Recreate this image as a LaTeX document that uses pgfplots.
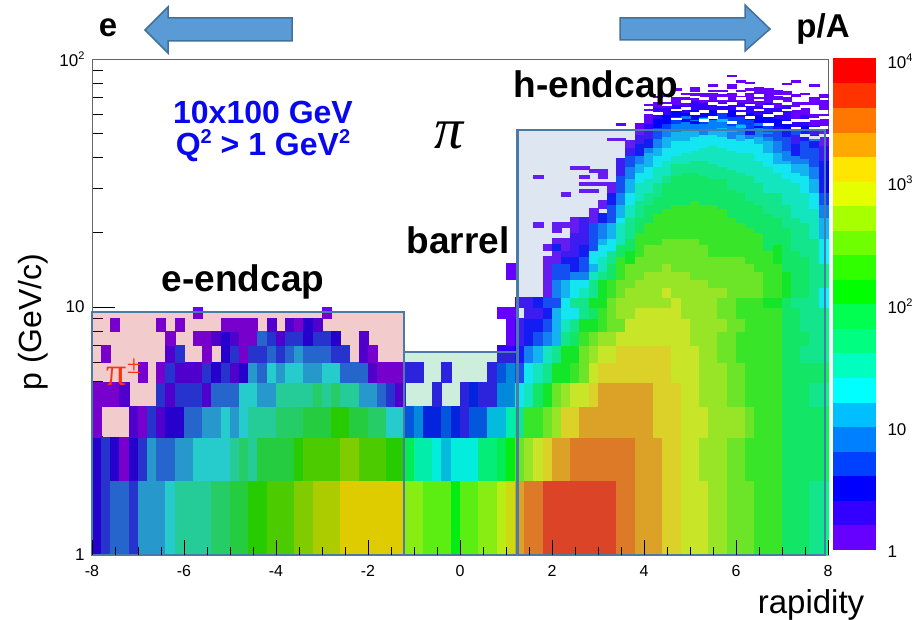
\documentclass[border=0pt]{standalone}
\usepackage{pgfplots}
\usepackage{fontspec}
\pgfplotsset{compat=1.18}
\setmainfont{Liberation Sans}
\newfontfamily\serifpi{Liberation Serif}
\definecolor{lev0}{HTML}{FFFFFF}
\definecolor{lev1}{HTML}{6600FF}
\definecolor{lev2}{HTML}{3300FF}
\definecolor{lev3}{HTML}{0000FF}
\definecolor{lev4}{HTML}{0040FF}
\definecolor{lev5}{HTML}{0080FF}
\definecolor{lev6}{HTML}{00BFFF}
\definecolor{lev7}{HTML}{00FFFF}
\definecolor{lev8}{HTML}{00FFBF}
\definecolor{lev9}{HTML}{00FF80}
\definecolor{lev10}{HTML}{00FF50}
\definecolor{lev11}{HTML}{00FF00}
\definecolor{lev12}{HTML}{30FF00}
\definecolor{lev13}{HTML}{70FF00}
\definecolor{lev14}{HTML}{A8FF00}
\definecolor{lev15}{HTML}{E6FF00}
\definecolor{lev16}{HTML}{FFE600}
\definecolor{lev17}{HTML}{FFAA00}
\definecolor{lev18}{HTML}{FF7700}
\definecolor{lev19}{HTML}{FF3300}
\definecolor{lev20}{HTML}{FF0000}
\definecolor{boxline}{HTML}{4A7BA6}
\definecolor{ovpink}{RGB}{191,0,0}
\definecolor{ovgreen}{RGB}{18,173,94}
\definecolor{ovblue}{RGB}{94,135,191}
\definecolor{noteblue}{RGB}{8,8,240}
\pgfdeclareplotmark{cell}{\pgfpathrectangle{\pgfpointorigin}{\pgfpoint{\rw pt}{\rh pt}}\pgfusepathqfillstroke}
\newcommand{\fs}[1]{\fontsize{#1}{#1}\selectfont}
\newcommand{\up}[3]{\raisebox{#1pt}{\fs{#2}#3}}
\pgfplotsset{cellstyle/.style={only marks, scatter, mark=cell, point meta=\thisrow{c},
  visualization depends on={value \thisrow{c} \as \lev},
  scatter/@pre marker code/.code={\scope[fill=lev\lev, draw=lev\lev, line width=0.25pt]},
  scatter/@post marker code/.code={\endscope}}}
\begin{document}
\begin{tikzpicture}[x=1pt,y=1pt]
\path[use as bounding box] (0,0) rectangle (916,620);
\begin{axis}[at={(92pt,65pt)}, anchor=south west, scale only axis, width=736pt, height=496pt,
  xmin=-8, xmax=8, ymode=log, ymin=1, ymax=100, clip=false, axis on top,
  xtick=\empty, ytick={1,10,100}, yticklabels={1,10,{10\up{7}{11}{2}}},
  minor ytick={2,3,4,5,6,7,8,9,20,30,40,50,60,70,80,90},
  major tick length=23pt, minor tick length=11pt, tick align=inside, ytick pos=left,
  tick style={black, line width=0.6pt}, axis line style={draw=gray!80!black, line width=0.8pt},
  yticklabel style={font=\fs{17}, xshift=-4pt}]
\addplot[cellstyle, visualization depends on={9.2*\thisrow{n} \as \rw},
  visualization depends on={248*log10(\thisrow{q}/\thisrow{p}) \as \rh}]
 table[row sep=\\, x expr={-8+0.2*\thisrow{k}}, y=p] {
k n p q c\\
0 1 1 2 3\\ 1 1 1 2 4\\ 2 2 1 2 5\\ 4 1 1 2 4\\ 5 3 1 2 6\\ 8 1 1 2 7\\ 9 4 1 2 8\\ 13 2 1 2 9\\ 15 2 1 2 10\\ 17 2 1 2 11\\ 19 3 1 2 12\\ 22 2 1 2 13\\ 24 3 1 2 14\\ 27 7 1 2 15\\
34 2 1 2 14\\ 36 3 1 2 13\\ 39 1 1 2 11\\ 40 2 1 2 13\\ 42 2 1 2 14\\ 44 1 1 2 15\\ 45 1 1 2 16\\ 46 1 1 2 17\\ 47 2 1 2 18\\ 49 8 1 2 19\\ 57 2 1 2 18\\ 59 3 1 2 17\\ 62 2 1 2 16\\ 64 3 1 2 15\\ 67 2 1 2 14\\ 69 3 1 2 13\\ 72 3 1 2 12\\ 75 3 1 2 10\\ 78 2 1 2 9\\
0 1 2 3 3\\ 1 1 2 3 4\\ 2 1 2 3 3\\ 3 1 2 3 1\\ 4 1 2 3 3\\ 5 1 2 3 4\\ 6 1 2 3 6\\ 7 2 2 3 5\\ 9 2 2 3 6\\ 11 4 2 3 7\\ 15 1 2 3 8\\ 16 1 2 3 9\\ 17 1 2 3 8\\ 18 4 2 3 10\\ 22 1 2 3 11\\ 23 4 2 3 12\\ 27 2 2 3 13\\ 29 3 2 3 12\\ 32 2 2 3 11\\
34 1 2 3 10\\ 35 2 2 3 8\\ 37 1 2 3 7\\ 38 1 2 3 6\\ 39 3 2 3 7\\ 42 2 2 3 9\\ 44 1 2 3 10\\ 45 1 2 3 11\\ 46 1 2 3 13\\ 47 1 2 3 14\\ 48 1 2 3 15\\ 49 1 2 3 16\\ 50 2 2 3 17\\ 52 7 2 3 18\\ 59 3 2 3 17\\ 62 2 2 3 16\\ 64 2 2 3 15\\ 66 3 2 3 14\\ 69 2 2 3 13\\ 71 4 2 3 12\\ 75 5 2 3 10\\
0 1 3 4 1\\ 4 1 3 4 2\\ 5 1 3 4 1\\ 6 1 3 4 4\\ 7 1 3 4 2\\ 8 2 3 4 3\\ 10 2 3 4 5\\ 12 2 3 4 6\\ 14 1 3 4 7\\ 15 1 3 4 6\\ 16 1 3 4 7\\ 17 3 3 4 8\\ 20 3 3 4 9\\ 23 3 3 4 10\\ 26 2 3 4 11\\ 28 2 3 4 10\\ 30 2 3 4 9\\ 32 2 3 4 7\\
34 1 3 4 4\\ 35 1 3 4 5\\ 36 2 3 4 3\\ 38 1 3 4 4\\ 39 1 3 4 3\\ 40 1 3 4 2\\ 41 2 3 4 4\\ 43 2 3 4 6\\ 45 1 3 4 8\\ 46 1 3 4 9\\ 47 2 3 4 12\\ 49 1 3 4 13\\ 50 1 3 4 14\\ 51 2 3 4 16\\ 53 8 3 4 17\\ 61 3 3 4 16\\ 64 3 3 4 15\\ 67 4 3 4 14\\ 71 1 3 4 13\\ 72 3 3 4 12\\ 75 5 3 4 10\\
0 3 4 5 1\\ 3 1 4 5 2\\ 7 1 4 5 4\\ 8 1 4 5 2\\ 9 3 4 5 4\\ 12 1 4 5 2\\ 13 3 4 5 5\\ 16 2 4 5 7\\ 18 2 4 5 6\\ 20 4 4 5 8\\ 24 1 4 5 9\\ 25 1 4 5 8\\ 26 1 4 5 9\\ 27 2 4 5 8\\ 29 2 4 5 6\\ 31 1 4 5 5\\ 32 1 4 5 4\\ 33 1 4 5 2\\
37 1 4 5 2\\ 40 1 4 5 2\\ 41 1 4 5 3\\ 42 2 4 5 2\\ 44 2 4 5 5\\ 46 1 4 5 7\\ 47 1 4 5 8\\ 48 1 4 5 10\\ 49 1 4 5 11\\ 50 1 4 5 13\\ 51 1 4 5 14\\ 52 2 4 5 15\\ 54 1 4 5 16\\ 55 6 4 5 17\\ 61 3 4 5 16\\ 64 2 4 5 15\\ 66 3 4 5 14\\ 69 2 4 5 13\\ 71 4 4 5 12\\ 75 3 4 5 10\\ 78 2 4 5 9\\
5 1 5 6 1\\ 7 1 5 6 1\\ 8 1 5 6 4\\ 9 3 5 6 2\\ 12 1 5 6 4\\ 13 1 5 6 3\\ 14 1 5 6 4\\ 15 1 5 6 2\\ 16 1 5 6 3\\ 17 1 5 6 6\\ 18 1 5 6 5\\ 19 1 5 6 7\\ 20 1 5 6 6\\ 21 2 5 6 7\\ 23 2 5 6 6\\ 25 2 5 6 7\\ 27 3 5 6 5\\ 30 1 5 6 2\\ 31 3 5 6 1\\
34 2 5 6 2\\ 38 1 5 6 2\\ 43 1 5 6 2\\ 44 1 5 6 4\\ 45 1 5 6 5\\ 46 1 5 6 4\\ 47 1 5 6 7\\ 48 1 5 6 8\\ 49 1 5 6 9\\ 50 2 5 6 11\\ 52 1 5 6 12\\ 53 1 5 6 13\\ 54 1 5 6 15\\ 55 8 5 6 16\\ 63 3 5 6 15\\ 66 3 5 6 14\\ 69 2 5 6 13\\ 71 4 5 6 12\\ 75 5 5 6 10\\
1 1 6 7 1\\ 8 1 6 7 2\\ 9 1 6 7 4\\ 12 1 6 7 1\\ 14 1 6 7 3\\ 15 1 6 7 4\\ 16 1 6 7 1\\ 17 2 6 7 4\\ 19 1 6 7 5\\ 20 1 6 7 4\\ 21 1 6 7 5\\ 22 1 6 7 6\\ 23 3 6 7 5\\ 26 2 6 7 4\\ 29 1 6 7 2\\ 30 1 6 7 1\\
44 2 6 7 2\\ 46 1 6 7 3\\ 47 1 6 7 5\\ 48 1 6 7 6\\ 49 1 6 7 8\\ 50 1 6 7 9\\ 51 2 6 7 11\\ 53 1 6 7 13\\ 54 1 6 7 14\\ 55 2 6 7 15\\ 57 6 6 7 16\\ 63 3 6 7 15\\ 66 2 6 7 14\\ 68 2 6 7 13\\ 70 5 6 7 12\\ 75 2 6 7 10\\ 77 3 6 7 9\\
8 1 7 8 1\\ 11 2 7 8 1\\ 13 1 7 8 2\\ 14 1 7 8 3\\ 15 1 7 8 2\\ 16 2 7 8 1\\ 18 1 7 8 5\\ 19 1 7 8 4\\ 20 1 7 8 2\\ 21 2 7 8 4\\ 23 1 7 8 3\\ 24 2 7 8 4\\ 26 1 7 8 3\\ 29 1 7 8 2\\
45 1 7 8 1\\ 46 1 7 8 2\\ 47 1 7 8 3\\ 48 1 7 8 4\\ 49 1 7 8 5\\ 50 1 7 8 6\\ 51 1 7 8 9\\ 52 1 7 8 10\\ 53 1 7 8 12\\ 54 1 7 8 13\\ 55 2 7 8 14\\ 57 8 7 8 15\\ 65 3 7 8 14\\ 68 2 7 8 13\\ 70 5 7 8 12\\ 75 3 7 8 10\\ 78 2 7 8 9\\
2 1 8 9 1\\ 7 1 8 9 1\\ 9 1 8 9 1\\ 14 4 8 9 1\\ 19 1 8 9 2\\ 21 1 8 9 2\\ 22 1 8 9 1\\ 23 1 8 9 3\\ 24 1 8 9 2\\
45 1 8 9 1\\ 46 1 8 9 2\\ 47 2 8 9 3\\ 49 1 8 9 4\\ 50 1 8 9 6\\ 51 1 8 9 8\\ 52 1 8 9 9\\ 53 2 8 9 11\\ 55 1 8 9 12\\ 56 2 8 9 13\\ 58 7 8 9 15\\ 65 4 8 9 14\\ 69 2 8 9 13\\ 71 4 8 9 12\\ 75 2 8 9 10\\ 77 3 8 9 9\\
11 1 9 10 1\\ 25 1 9 10 1\\ 44 2 9 10 1\\ 47 2 9 10 2\\ 49 1 9 10 3\\ 50 1 9 10 6\\ 51 2 9 10 7\\ 53 1 9 10 9\\ 54 1 9 10 10\\ 55 1 9 10 12\\ 56 1 9 10 13\\ 57 2 9 10 14\\ 59 5 9 10 15\\ 64 4 9 10 14\\ 68 2 9 10 13\\ 70 5 9 10 12\\ 75 2 9 10 10\\ 77 3 9 10 9\\
46 1 10 11 2\\ 47 1 10 11 2\\ 48 1 10 11 3\\ 49 2 10 11 4\\ 51 1 10 11 7\\ 52 2 10 11 9\\ 54 2 10 11 11\\ 56 1 10 11 13\\ 57 6 10 11 14\\ 63 1 10 11 15\\ 64 4 10 11 14\\ 68 2 10 11 13\\ 70 3 10 11 12\\ 73 2 10 11 11\\ 75 1 10 11 10\\ 76 3 10 11 9\\ 79 1 10 11 7\\
45 1 13 15 1\\
49 1 11 16 1\\ 49 1 17 18 1\\ 48 1 21 22 1\\ 48 1 33 34 1\\
50 1 11 13 5\\ 50 1 13 15 4\\ 50 1 15 19 1\\ 50 1 17 18 3\\ 50 1 20 22 1\\
51 1 11 13 6\\ 51 1 13 15 4\\ 51 1 15 16 3\\ 51 1 16 17 2\\ 51 1 17 19 1\\ 51 1 21 22 1\\ 51 1 28 29 1\\
52 1 11 13 7\\ 52 1 13 14 5\\ 52 1 14 16 3\\ 52 1 16 20 2\\ 52 1 20 23 1\\ 52 1 36 37 1\\
53 1 11 12 8\\ 53 1 12 13 7\\ 53 1 13 14 5\\ 53 1 14 16 4\\ 53 1 16 18 3\\ 53 1 18 23 2\\ 53 1 29 30 1\\ 53 1 31 32 1\\ 53 1 33 34 1\\ 53 1 36 37 1\\
54 1 11 13 9\\ 54 1 13 14 8\\ 54 1 14 15 6\\ 54 1 15 17 7\\ 54 1 17 22 4\\ 54 1 22 25 1\\ 54 1 29 30 1\\ 54 1 31 32 1\\ 54 1 35 36 1\\
55 1 11 13 11\\ 55 1 13 14 9\\ 55 1 14 16 8\\ 55 1 16 18 7\\ 55 1 18 19 6\\ 55 1 19 22 5\\ 55 1 22 24 3\\ 55 1 25 27 1\\ 55 1 31 32 1\\ 55 1 33 36 1\\
56 1 11 13 12\\ 56 1 13 15 10\\ 56 1 15 17 9\\ 56 1 17 19 7\\ 56 1 19 22 6\\ 56 1 22 26 4\\ 56 1 26 29 3\\ 56 1 29 32 1\\ 56 1 47 48 1\\
57 1 11 13 13\\ 57 1 13 16 12\\ 57 1 16 18 10\\ 57 1 18 22 8\\ 57 1 22 23 7\\ 57 1 23 26 6\\ 57 1 26 29 5\\ 57 1 29 34 4\\ 57 1 34 40 2\\ 57 1 47 48 1\\ 57 1 54 55 1\\
58 1 11 12 14\\ 58 1 12 15 13\\ 58 1 15 17 11\\ 58 1 17 19 10\\ 58 1 19 23 9\\ 58 1 23 26 8\\ 58 1 26 29 7\\ 58 1 29 33 6\\ 58 1 33 37 5\\ 58 1 37 41 4\\ 58 1 41 44 2\\ 58 1 44 47 1\\
59 1 11 13 14\\ 59 1 13 16 13\\ 59 1 16 20 12\\ 59 1 20 23 10\\ 59 1 23 27 9\\ 59 1 27 32 8\\ 59 1 32 35 7\\ 59 1 35 38 6\\ 59 1 38 41 5\\ 59 1 41 46 3\\ 59 1 46 50 2\\ 59 1 50 55 1\\
60 1 11 14 14\\ 60 1 14 18 13\\ 60 1 18 22 12\\ 60 1 22 26 10\\ 60 1 26 29 9\\ 60 1 29 33 8\\ 60 1 33 37 7\\ 60 1 37 42 6\\ 60 1 42 44 5\\ 60 1 44 48 3\\ 60 1 48 55 2\\ 60 1 55 60 1\\
61 1 11 14 14\\ 61 1 14 18 13\\ 61 1 18 24 12\\ 61 1 24 28 10\\ 61 1 28 32 9\\ 61 1 32 37 8\\ 61 1 37 41 7\\ 61 1 41 44 6\\ 61 1 44 48 5\\ 61 1 48 53 4\\ 61 1 53 58 3\\ 61 1 58 64 2\\ 61 1 64 67 1\\
62 1 11 12 15\\ 62 1 12 15 14\\ 62 1 15 19 13\\ 62 1 19 25 12\\ 62 1 25 32 10\\ 62 1 32 34 9\\ 62 1 34 39 8\\ 62 1 39 44 7\\ 62 1 44 49 6\\ 62 1 49 52 5\\ 62 1 52 55 4\\ 62 1 55 60 3\\ 62 1 60 64 2\\ 62 1 64 67 1\\
63 1 11 14 14\\ 63 1 14 19 13\\ 63 1 19 26 12\\ 63 1 26 34 10\\ 63 1 34 38 9\\ 63 1 38 41 8\\ 63 1 41 47 7\\ 63 1 47 51 6\\ 63 1 51 55 5\\ 63 1 55 59 4\\ 63 1 59 63 3\\ 63 1 63 66 2\\ 63 1 66 70 1\\ 63 1 75 76 1\\
64 1 11 14 14\\ 64 1 14 19 13\\ 64 1 19 26 12\\ 64 1 26 35 10\\ 64 1 35 38 9\\ 64 1 38 42 8\\ 64 1 42 47 7\\ 64 1 47 52 6\\ 64 1 52 56 5\\ 64 1 56 61 3\\ 64 1 61 65 2\\ 64 1 65 70 1\\
65 1 11 13 14\\ 65 1 13 19 13\\ 65 1 19 27 12\\ 65 1 27 35 10\\ 65 1 35 39 9\\ 65 1 39 43 8\\ 65 1 43 49 7\\ 65 1 49 52 6\\ 65 1 52 57 5\\ 65 1 57 63 3\\ 65 1 63 68 2\\ 65 1 68 73 1\\ 65 1 74 77 1\\
66 1 11 13 14\\ 66 1 13 18 13\\ 66 1 18 26 12\\ 66 1 26 34 10\\ 66 1 34 39 9\\ 66 1 39 44 8\\ 66 1 44 50 7\\ 66 1 50 55 5\\ 66 1 55 59 4\\ 66 1 59 63 3\\ 66 1 63 67 2\\ 66 1 67 73 1\\
67 1 11 12 14\\ 67 1 12 16 13\\ 67 1 16 26 12\\ 67 1 26 33 10\\ 67 1 33 38 9\\ 67 1 38 45 8\\ 67 1 45 50 7\\ 67 1 50 52 6\\ 67 1 52 57 5\\ 67 1 57 63 3\\ 67 1 63 68 2\\ 67 1 68 73 1\\ 67 1 78 79 1\\
68 1 11 12 14\\ 68 1 12 16 13\\ 68 1 16 25 12\\ 68 1 25 33 10\\ 68 1 33 37 9\\ 68 1 37 44 8\\ 68 1 44 49 7\\ 68 1 49 53 6\\ 68 1 53 58 5\\ 68 1 58 62 4\\ 68 1 62 67 2\\ 68 1 67 72 1\\
69 1 11 16 13\\ 69 1 16 23 12\\ 69 1 23 30 10\\ 69 1 30 36 9\\ 69 1 36 43 8\\ 69 1 43 48 7\\ 69 1 48 54 5\\ 69 1 54 59 4\\ 69 1 59 63 3\\ 69 1 63 68 2\\ 69 1 68 73 1\\ 69 1 76 77 1\\ 69 1 78 79 1\\ 69 1 85 86 1\\
70 1 11 16 13\\ 70 1 16 22 12\\ 70 1 22 29 10\\ 70 1 29 35 9\\ 70 1 35 42 8\\ 70 1 42 47 7\\ 70 1 47 50 6\\ 70 1 50 55 5\\ 70 1 55 59 4\\ 70 1 59 67 2\\ 70 1 67 71 1\\ 70 1 74 75 1\\ 70 1 81 82 1\\
71 1 11 15 13\\ 71 1 15 21 12\\ 71 1 21 27 10\\ 71 1 27 34 9\\ 71 1 34 42 8\\ 71 1 42 48 7\\ 71 1 48 52 5\\ 71 1 52 57 4\\ 71 1 57 61 3\\ 71 1 61 67 2\\ 71 1 67 73 1\\ 71 1 75 76 1\\ 71 1 80 81 1\\
72 1 11 14 13\\ 72 1 14 20 12\\ 72 1 20 26 10\\ 72 1 26 32 9\\ 72 1 32 39 8\\ 72 1 39 46 7\\ 72 1 46 49 6\\ 72 1 49 53 5\\ 72 1 53 60 3\\ 72 1 60 65 2\\ 72 1 65 75 1\\
73 1 11 17 12\\ 73 1 17 24 10\\ 73 1 24 29 9\\ 73 1 29 37 8\\ 73 1 37 42 7\\ 73 1 42 47 6\\ 73 1 47 51 5\\ 73 1 51 55 4\\ 73 1 55 61 3\\ 73 1 61 67 2\\ 73 1 67 76 1\\
74 1 11 15 12\\ 74 1 15 18 11\\ 74 1 18 23 10\\ 74 1 23 29 9\\ 74 1 29 35 8\\ 74 1 35 38 7\\ 74 1 38 42 6\\ 74 1 42 47 5\\ 74 1 47 53 4\\ 74 1 53 58 3\\ 74 1 58 64 2\\ 74 1 64 71 1\\ 74 1 72 75 1\\
75 1 11 14 11\\ 75 1 14 21 10\\ 75 1 21 26 9\\ 75 1 26 33 8\\ 75 1 33 38 7\\ 75 1 38 39 6\\ 75 1 39 43 5\\ 75 1 43 49 4\\ 75 1 49 57 3\\ 75 1 57 65 2\\ 75 1 65 70 1\\ 75 1 79 80 1\\
76 1 11 17 10\\ 76 1 17 23 9\\ 76 1 23 32 8\\ 76 1 32 35 7\\ 76 1 35 38 6\\ 76 1 38 41 5\\ 76 1 41 46 3\\ 76 1 46 58 2\\ 76 1 58 67 1\\ 76 1 71 72 1\\ 76 1 81 82 1\\
77 1 11 16 10\\ 77 1 16 22 9\\ 77 1 22 29 8\\ 77 1 29 34 7\\ 77 1 34 38 6\\ 77 1 38 40 5\\ 77 1 40 47 4\\ 77 1 47 54 3\\ 77 1 54 60 2\\ 77 1 60 67 1\\
78 1 11 19 9\\ 78 1 19 25 8\\ 78 1 25 29 7\\ 78 1 29 33 6\\ 78 1 33 37 5\\ 78 1 37 44 4\\ 78 1 44 50 3\\ 78 1 50 54 2\\ 78 1 54 60 1\\ 78 1 78 79 1\\
79 1 11 12 7\\ 79 1 12 15 9\\ 79 1 15 19 7\\ 79 1 19 23 6\\ 79 1 23 26 5\\ 79 1 26 29 4\\ 79 1 29 39 3\\ 79 1 39 45 2\\ 79 1 45 52 1\\ 79 1 54 60 1\\ 79 1 63 66 1\\
66 1 72 73 1\\ 67 1 74 75 1\\ 68 1 74 75 1\\ 72 1 74 77 1\\ 73 1 72 75 1\\ 75 1 72 74 1\\ 77 1 72 73 1\\ 78 1 66 70 1\\ 79 1 70 72 1\\ 79 1 66 68 1\\ 62 1 71 72 1\\ 61 1 70 71 1\\ 60 1 65 66 1\\ 60 1 62 63 1\\ 64 1 72 73 1\\
64 1 58 59 5\\ 66 1 57 58 6\\ 68 1 56 57 6\\ 70 1 53 54 6\\ 72 1 54 55 5\\ 74 1 52 53 2\\ 76 1 50 51 4\\ 78 1 47 48 5\\ 65 1 55 56 3\\ 69 1 51 52 6\\ 71 1 50 51 3\\ 73 1 49 50 4\\
61 1 60 61 0\\ 63 1 57 58 0\\ 65 1 60 61 0\\ 66 1 56 57 0\\ 67 1 58 59 0\\ 68 1 61 62 0\\ 69 1 55 56 0\\ 70 1 63 64 0\\ 71 1 58 59 0\\ 72 1 62 63 0\\ 73 1 54 55 0\\ 74 1 60 61 0\\ 75 1 55 56 0\\ 75 1 62 63 0\\ 76 1 52 53 0\\ 77 1 56 57 0\\ 77 1 49 50 0\\ 78 1 52 53 0\\ 78 1 48 49 0\\ 63 1 62 63 0\\
62 1 65 66 0\\ 64 1 67 68 0\\ 65 1 70 71 0\\ 66 1 69 70 0\\ 67 1 66 67 0\\ 68 1 69 70 0\\ 69 1 66 67 0\\ 70 1 69 70 0\\ 71 1 65 66 0\\ 72 1 68 69 0\\ 72 1 71 72 0\\ 73 1 64 65 0\\ 74 1 67 68 0\\ 75 1 66 67 0\\ 76 1 63 64 0\\ 77 1 64 65 0\\ 78 1 57 58 0\\ 79 1 49 50 0\\ 64 1 63 64 0\\ 66 1 61 62 0\\ 68 1 65 66 0\\ 70 1 60 61 0\\ 73 1 59 60 0\\ 76 1 56 57 0\\ 79 1 58 59 0\\
}; 
\end{axis}
\begin{axis}[at={(92pt,65pt)}, anchor=south west, scale only axis, width=736pt, height=496pt,
  xmin=-8, xmax=8, ymode=log, ymin=1, ymax=100, clip=false, axis on top, ytick=\empty, axis line style={draw=none},
  xtick={-8,-6,-4,-2,0,2,4,6,8}, xticklabels={-8,-6,-4,-2,0,2,4,6,8},
  minor xtick={-7.5,-7,-6.5,-5.5,-5,-4.5,-3.5,-3,-2.5,-1.5,-1,-0.5,0.5,1,1.5,2.5,3,3.5,4.5,5,5.5,6.5,7,7.5},
  major tick length=15pt, minor tick length=7.5pt, tick align=inside, xtick pos=bottom,
  tick style={black, line width=0.6pt},
  xticklabel style={font=\fs{16}, yshift=-7pt}]
\fill[ovpink, fill opacity=0.2] (axis cs:-8,1) rectangle (axis cs:-1.22,9.55);
\fill[ovgreen, fill opacity=0.21] (axis cs:-1.22,1) rectangle (axis cs:1.25,6.6);
\fill[ovblue, fill opacity=0.21] (axis cs:1.25,1) rectangle (axis cs:7.93,51.7);
\draw[boxline, line width=2.2pt] (axis cs:-8,1) rectangle (axis cs:-1.22,9.55);
\draw[boxline, line width=2.2pt] (axis cs:-1.22,1) rectangle (axis cs:1.25,6.6);
\draw[boxline, line width=2.2pt] (axis cs:1.25,1) rectangle (axis cs:7.93,51.7);
\end{axis}
\begin{axis}[at={(833pt,71pt)}, anchor=south west, scale only axis, width=42pt, height=491pt,
  xmin=0, xmax=1, ymode=log, ymin=1, ymax=10000, clip=false, axis on top,
  axis x line=none, axis y line*=right, ytick pos=right,
  ytick={1,10,100,1000,10000}, yticklabels={1,10,{10\up{7}{11}{2}},{10\up{7}{11}{3}},{10\up{7}{11}{4}}},
  major tick length=23pt, minor tick length=12pt, tick align=inside,
  tick style={black, line width=0.6pt}, axis line style={draw=gray, line width=0.8pt},
  yticklabel style={font=\fs{17}, xshift=9pt, yshift=-3pt}]
\addplot[cellstyle, visualization depends on={42 \as \rw},
  visualization depends on={122.75*log10(\thisrow{q}/\thisrow{p}) \as \rh}]
 table[row sep=\\, x=x, y=p] {
x p q c\\
0 1 1.585 1\\ 0 1.585 2.512 2\\ 0 2.512 3.981 3\\ 0 3.981 6.31 4\\ 0 6.31 10 5\\
0 10 15.85 6\\ 0 15.85 25.12 7\\ 0 25.12 39.81 8\\ 0 39.81 63.1 9\\ 0 63.1 100 10\\
0 100 158.5 11\\ 0 158.5 251.2 12\\ 0 251.2 398.1 13\\ 0 398.1 631 14\\ 0 631 1000 15\\
0 1000 1585 16\\ 0 1585 2512 17\\ 0 2512 3981 18\\ 0 3981 6310 19\\ 0 6310 10000 20\\
};
\end{axis}
\filldraw[fill={rgb,255:red,91;green,155;blue,213}, draw={rgb,255:red,65;green,113;blue,156}, line width=1.5pt]
  (145,590) -- (168,613) -- (168,602) -- (292,602) -- (292,579) -- (168,579) -- (168,567) -- cycle;
\filldraw[fill={rgb,255:red,91;green,155;blue,213}, draw={rgb,255:red,65;green,113;blue,156}, line width=1.5pt]
  (770,591) -- (745,615) -- (745,602) -- (620,602) -- (620,580) -- (745,580) -- (745,569) -- cycle;
\node[font=\fs{33}\bfseries] at (108,592) {e};
\node[font=\fs{33}\bfseries] at (823,591) {p/A};
\node[font=\fs{32}\bfseries, text=noteblue] at (263,508) {10x100 GeV};
\node[font=\fs{32}\bfseries, text=noteblue] at (263,474) {Q\up{12}{20}{2} > 1 GeV\up{12}{20}{2}};
\node[font=\fs{37}\bfseries] at (596,532) {h-endcap};
\node[font=\fs{37}\bfseries] at (458,380) {barrel};
\node[font=\fs{37}\bfseries] at (243,338) {e-endcap};
\node[font=\fs{58}\serifpi\itshape] at (449,485) {π};
\node[font=\fs{40}\serifpi, text={rgb,255:red,250;green,50;blue,20}] at (124,248) {π\up{12}{26}{±}};
\node[font=\fs{32}, rotate=90] at (33,298) {p (GeV/c)};
\node[font=\fs{33}] at (811,15) {rapidity};
\end{tikzpicture}
\end{document}
